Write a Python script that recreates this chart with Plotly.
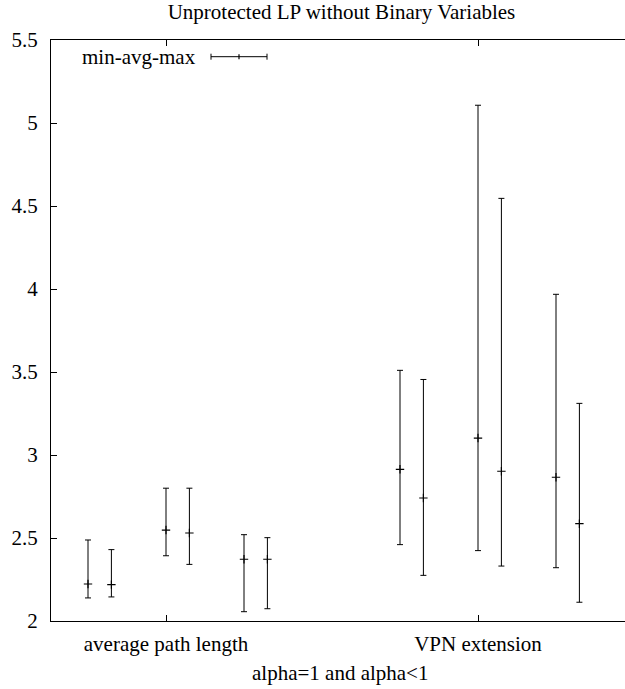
import plotly.graph_objects as go

# ---- data ----
categories = ["average path length", "VPN extension"]
y_ticks = [2, 2.5, 3, 3.5, 4, 4.5, 5, 5.5]
y_tick_labels = ["2", "2.5", "3", "3.5", "4", "4.5", "5", "5.5"]

# six configurations, each with (average path length, VPN extension)
s1_min = [2.139, 2.460]; s1_avg = [2.223, 2.914]; s1_max = [2.488, 3.510]
s2_min = [2.145, 2.275]; s2_avg = [2.219, 2.741]; s2_max = [2.430, 3.455]
s3_min = [2.393, 2.424]; s3_avg = [2.548, 3.102]; s3_max = [2.800, 5.107]
s4_min = [2.341, 2.331]; s4_avg = [2.530, 2.902]; s4_max = [2.800, 4.546]
s5_min = [2.056, 2.321]; s5_avg = [2.372, 2.866]; s5_max = [2.520, 3.968]
s6_min = [2.074, 2.113]; s6_avg = [2.372, 2.586]; s6_max = [2.502, 3.311]

series = [
    (s1_min, s1_avg, s1_max),
    (s2_min, s2_avg, s2_max),
    (s3_min, s3_avg, s3_max),
    (s4_min, s4_avg, s4_max),
    (s5_min, s5_avg, s5_max),
    (s6_min, s6_avg, s6_max),
]

# ---- layout constants ----
W, H = 625, 689
ML, MR, MT, MB = 51, 0, 40, 68
OFFSETS = [-0.25, -0.175, 0.0, 0.075, 0.25, 0.325]
FONT = "Liberation Serif, Times New Roman, serif"
FS = 21
cat_pos = [1, 2]

fig = go.Figure()
for (mn, av, mx), off in zip(series, OFFSETS):
    fig.add_trace(go.Scatter(
        x=[c + off for c in cat_pos],
        y=av,
        mode="markers",
        marker=dict(symbol="cross-thin", size=6, color="black",
                    line=dict(color="black", width=1.2)),
        error_y=dict(type="data", symmetric=False,
                     array=[a - b for a, b in zip(mx, av)],
                     arrayminus=[a - b for a, b in zip(av, mn)],
                     color="black", thickness=1, width=3),
        showlegend=False,
        hoverinfo="skip",
    ))

pw = W - ML - MR
ph = H - MT - MB

def px_x(px):
    return (px - ML) / pw

def px_y(py):
    return (H - MB - py) / ph

# legend key: "min-avg-max" with a horizontal error bar sample
ly = 56.7
shapes = [
    dict(type="line", xref="paper", yref="paper", x0=px_x(211), x1=px_x(267),
         y0=px_y(ly), y1=px_y(ly), line=dict(color="black", width=1)),
    dict(type="line", xref="paper", yref="paper", x0=px_x(211), x1=px_x(211),
         y0=px_y(ly - 3), y1=px_y(ly + 3), line=dict(color="black", width=1)),
    dict(type="line", xref="paper", yref="paper", x0=px_x(267), x1=px_x(267),
         y0=px_y(ly - 3), y1=px_y(ly + 3), line=dict(color="black", width=1)),
    dict(type="line", xref="paper", yref="paper", x0=px_x(239), x1=px_x(239),
         y0=px_y(ly - 2.5), y1=px_y(ly + 2.5), line=dict(color="black", width=1.2)),
]

annotations = [
    dict(text="min-avg-max", xref="paper", yref="paper", x=px_x(198), y=px_y(ly),
         xanchor="right", yanchor="middle", showarrow=False,
         font=dict(family=FONT, size=FS, color="black")),
    dict(text="alpha=1 and alpha<1", xref="paper", yref="paper", x=px_x(340), y=px_y(673),
         xanchor="center", yanchor="middle", showarrow=False,
         font=dict(family=FONT, size=FS, color="black")),
]

fig.update_layout(
    width=W, height=H,
    margin=dict(l=ML, r=MR, t=MT, b=MB, pad=0),
    paper_bgcolor="white", plot_bgcolor="white",
    title=dict(text="Unprotected LP without Binary Variables",
               x=341.5 / W, xanchor="center", xref="container",
               y=1 - 12 / H, yanchor="middle", yref="container",
               font=dict(family=FONT, size=FS, color="black")),
    font=dict(family=FONT, size=FS, color="black"),
    shapes=shapes,
    annotations=annotations,
    xaxis=dict(range=[1 - 115 / 312, 2 + 147 / 312], tickvals=cat_pos,
               ticktext=categories, showgrid=False, zeroline=False,
               showline=True, linecolor="black", linewidth=1, mirror="ticks",
               ticks="inside", ticklen=6, tickcolor="black", tickwidth=1,
               ticklabelstandoff=4,
               tickfont=dict(family=FONT, size=FS, color="black")),
    yaxis=dict(range=[2, 5.5], tickvals=y_ticks, ticktext=y_tick_labels,
               showgrid=False, zeroline=False,
               showline=True, linecolor="black", linewidth=1, mirror=False,
               ticks="inside", ticklen=6, tickcolor="black", tickwidth=1,
               ticklabelstandoff=8,
               tickfont=dict(family=FONT, size=FS, color="black")),
)

fig.write_html("out.html")
